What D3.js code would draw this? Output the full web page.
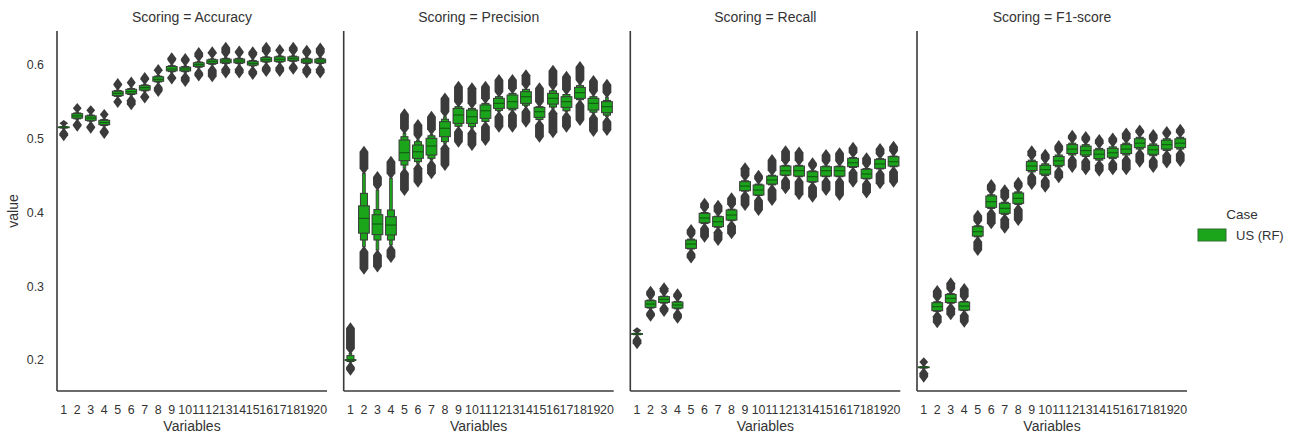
<!DOCTYPE html>
<html>
<head>
<meta charset="utf-8">
<script src="https://cdn.jsdelivr.net/npm/d3@7"></script>
<style>
  html, body { margin: 0; padding: 0; background: #ffffff; }
  svg text { font-family: "Liberation Sans", Arial, sans-serif; fill: #333333; }
</style>
</head>
<body>
<svg id="chart" width="1294" height="438"></svg>
<script>
// Facet titles (one panel per scoring metric)
const scorings = ["Accuracy", "Precision", "Recall", "F1-score"];
// Number of variables on the x axis
const variables = d3.range(1, 21);
// Y tick labels
const yTicks = [0.2, 0.3, 0.4, 0.5, 0.6];
const caseName = "US (RF)";

// Letter-value summaries per variable count.
// Row: [median, q1, q3, lowerLV, upperLV, lowerTailEnd, upperTailEnd, outlierMin, outlierMax]
const accuracyStats = [
  [0.5155, 0.5150, 0.5160, 0.5145, 0.5165, 0.5140, 0.5180, 0.498, 0.524],
  [0.531, 0.528, 0.534, 0.527, 0.535, 0.526, 0.536, 0.511, 0.547],
  [0.528, 0.525, 0.531, 0.524, 0.532, 0.523, 0.533, 0.508, 0.544],
  [0.522, 0.519, 0.525, 0.518, 0.526, 0.517, 0.527, 0.501, 0.539],
  [0.5616, 0.5585, 0.5645, 0.5575, 0.5655, 0.557, 0.566, 0.543, 0.581],
  [0.5638, 0.561, 0.567, 0.560, 0.568, 0.559, 0.569, 0.540, 0.583],
  [0.5693, 0.566, 0.572, 0.565, 0.573, 0.564, 0.574, 0.549, 0.589],
  [0.5806, 0.578, 0.584, 0.577, 0.585, 0.576, 0.586, 0.558, 0.600],
  [0.5946, 0.592, 0.598, 0.591, 0.599, 0.590, 0.600, 0.575, 0.616],
  [0.5946, 0.592, 0.597, 0.591, 0.598, 0.590, 0.599, 0.5715, 0.615],
  [0.6004, 0.598, 0.603, 0.597, 0.604, 0.596, 0.605, 0.579, 0.623],
  [0.6045, 0.602, 0.607, 0.601, 0.608, 0.600, 0.609, 0.578, 0.624],
  [0.6054, 0.603, 0.608, 0.602, 0.609, 0.601, 0.610, 0.583, 0.630],
  [0.6054, 0.603, 0.608, 0.602, 0.609, 0.601, 0.610, 0.583, 0.625],
  [0.6023, 0.600, 0.605, 0.599, 0.606, 0.598, 0.607, 0.581, 0.624],
  [0.6072, 0.605, 0.610, 0.604, 0.611, 0.603, 0.612, 0.585, 0.630],
  [0.6077, 0.605, 0.611, 0.604, 0.612, 0.603, 0.613, 0.585, 0.627],
  [0.6085, 0.606, 0.611, 0.605, 0.612, 0.604, 0.613, 0.588, 0.630],
  [0.6054, 0.603, 0.608, 0.602, 0.609, 0.601, 0.610, 0.583, 0.626],
  [0.6054, 0.603, 0.608, 0.602, 0.609, 0.601, 0.610, 0.583, 0.629]
];
const precisionStats = [
  [0.200, 0.1995, 0.2005, 0.198, 0.206, 0.197, 0.209, 0.180, 0.250],
  [0.392, 0.372, 0.409, 0.3627, 0.426, 0.3536, 0.453, 0.317, 0.489],
  [0.3844, 0.370, 0.397, 0.3627, 0.404, 0.349, 0.4305, 0.320, 0.455],
  [0.383, 0.3695, 0.3943, 0.3627, 0.4034, 0.356, 0.4464, 0.333, 0.4757],
  [0.4811, 0.4703, 0.4983, 0.4644, 0.5028, 0.460, 0.507, 0.4237, 0.540],
  [0.4824, 0.4735, 0.4915, 0.469, 0.496, 0.4667, 0.4983, 0.435, 0.5254],
  [0.4902, 0.478, 0.5006, 0.4735, 0.504, 0.4712, 0.506, 0.4464, 0.5367],
  [0.5142, 0.5028, 0.5231, 0.4961, 0.5265, 0.4938, 0.5299, 0.4576, 0.5615],
  [0.5322, 0.5209, 0.5412, 0.517, 0.5435, 0.5164, 0.5435, 0.4893, 0.5774],
  [0.5299, 0.5209, 0.539, 0.5165, 0.5412, 0.5142, 0.5412, 0.4848, 0.5751],
  [0.538, 0.5277, 0.5458, 0.5235, 0.548, 0.5231, 0.548, 0.4915, 0.5774],
  [0.548, 0.5412, 0.5548, 0.5385, 0.5571, 0.5367, 0.5571, 0.5096, 0.5865],
  [0.5503, 0.5412, 0.5593, 0.539, 0.5616, 0.539, 0.5616, 0.5096, 0.5865],
  [0.557, 0.548, 0.5638, 0.5455, 0.567, 0.5435, 0.567, 0.5164, 0.593],
  [0.5367, 0.529, 0.5426, 0.526, 0.5435, 0.5254, 0.5435, 0.496, 0.5751],
  [0.5548, 0.547, 0.5616, 0.543, 0.565, 0.5413, 0.566, 0.502, 0.599],
  [0.5503, 0.5426, 0.557, 0.538, 0.560, 0.5367, 0.560, 0.5096, 0.591],
  [0.5625, 0.5548, 0.5697, 0.553, 0.572, 0.5525, 0.573, 0.5186, 0.604],
  [0.548, 0.539, 0.5548, 0.536, 0.557, 0.5345, 0.558, 0.5037, 0.585],
  [0.5435, 0.5353, 0.5503, 0.532, 0.552, 0.530, 0.556, 0.5051, 0.580]
];
const recallStats = [
  [0.2353, 0.2348, 0.2358, 0.2343, 0.2363, 0.234, 0.237, 0.2158, 0.243],
  [0.2759, 0.2714, 0.2804, 0.2705, 0.2814, 0.2701, 0.2814, 0.2533, 0.2994],
  [0.2822, 0.278, 0.2859, 0.2772, 0.2866, 0.2769, 0.2866, 0.2597, 0.304],
  [0.2746, 0.2705, 0.2786, 0.2695, 0.2795, 0.2688, 0.2795, 0.2506, 0.2959],
  [0.3573, 0.3514, 0.3627, 0.3505, 0.364, 0.3505, 0.364, 0.3321, 0.3831],
  [0.3925, 0.3862, 0.3989, 0.385, 0.400, 0.385, 0.400, 0.3605, 0.4188],
  [0.3875, 0.3808, 0.3943, 0.380, 0.395, 0.380, 0.395, 0.356, 0.4159],
  [0.3966, 0.3898, 0.4034, 0.389, 0.4045, 0.389, 0.4045, 0.365, 0.426],
  [0.4359, 0.4296, 0.4418, 0.429, 0.443, 0.429, 0.443, 0.4034, 0.4667],
  [0.4305, 0.4237, 0.4373, 0.423, 0.4385, 0.423, 0.4385, 0.3966, 0.4567],
  [0.4441, 0.4386, 0.4494, 0.4375, 0.4505, 0.4375, 0.4505, 0.4102, 0.478],
  [0.4567, 0.4508, 0.463, 0.450, 0.464, 0.450, 0.464, 0.426, 0.490],
  [0.4567, 0.4494, 0.463, 0.4485, 0.464, 0.4485, 0.464, 0.418, 0.488],
  [0.4486, 0.4418, 0.4553, 0.441, 0.4565, 0.441, 0.4565, 0.4146, 0.4735],
  [0.4567, 0.4494, 0.4621, 0.4485, 0.463, 0.4485, 0.463, 0.4237, 0.4847],
  [0.4567, 0.4494, 0.4621, 0.4485, 0.463, 0.4485, 0.463, 0.417, 0.487],
  [0.4675, 0.4621, 0.4735, 0.461, 0.4745, 0.461, 0.4745, 0.435, 0.4945],
  [0.4522, 0.4464, 0.4586, 0.4455, 0.4595, 0.4455, 0.4595, 0.4205, 0.4802],
  [0.4658, 0.4599, 0.4721, 0.459, 0.473, 0.459, 0.473, 0.4328, 0.493],
  [0.4689, 0.463, 0.4757, 0.462, 0.4765, 0.462, 0.4765, 0.435, 0.496]
];
const f1Stats = [
  [0.1901, 0.1896, 0.1906, 0.1891, 0.1911, 0.189, 0.192, 0.1706, 0.2023],
  [0.2723, 0.2669, 0.2777, 0.266, 0.279, 0.266, 0.279, 0.2443, 0.3003],
  [0.2836, 0.278, 0.289, 0.277, 0.290, 0.277, 0.290, 0.2552, 0.3108],
  [0.2732, 0.2677, 0.2786, 0.267, 0.2795, 0.267, 0.2795, 0.2452, 0.303],
  [0.374, 0.3681, 0.3808, 0.367, 0.382, 0.367, 0.382, 0.3424, 0.4024],
  [0.4147, 0.407, 0.4224, 0.4055, 0.424, 0.4055, 0.424, 0.3786, 0.444],
  [0.4057, 0.3989, 0.4125, 0.3975, 0.414, 0.3975, 0.414, 0.3727, 0.437],
  [0.4192, 0.4124, 0.4264, 0.411, 0.428, 0.411, 0.428, 0.3831, 0.447],
  [0.463, 0.457, 0.469, 0.455, 0.471, 0.455, 0.471, 0.432, 0.490],
  [0.458, 0.452, 0.464, 0.450, 0.466, 0.450, 0.466, 0.428, 0.485],
  [0.470, 0.464, 0.476, 0.462, 0.478, 0.462, 0.478, 0.441, 0.497],
  [0.486, 0.480, 0.492, 0.478, 0.494, 0.478, 0.494, 0.455, 0.511],
  [0.484, 0.478, 0.490, 0.476, 0.492, 0.476, 0.492, 0.452, 0.509],
  [0.479, 0.473, 0.485, 0.471, 0.487, 0.471, 0.487, 0.450, 0.505],
  [0.481, 0.475, 0.487, 0.473, 0.489, 0.473, 0.489, 0.452, 0.507],
  [0.486, 0.480, 0.492, 0.478, 0.494, 0.478, 0.494, 0.452, 0.514],
  [0.494, 0.488, 0.500, 0.486, 0.502, 0.486, 0.502, 0.462, 0.518],
  [0.485, 0.479, 0.491, 0.477, 0.493, 0.477, 0.493, 0.455, 0.512],
  [0.492, 0.486, 0.498, 0.484, 0.500, 0.484, 0.500, 0.461, 0.516],
  [0.494, 0.488, 0.500, 0.486, 0.502, 0.486, 0.502, 0.463, 0.519]
];
const panelStats = [accuracyStats, precisionStats, recallStats, f1Stats];

// ---- layout ----
const svg = d3.select("#chart");
const panelLeft = [57, 343.7, 630.3, 917];
const panelWidth = 270;
const plotTop = 31, plotBottom = 391;

const fillGreen = "#1ba51b";
const edgeGray = "#3a3a3a";
const medianGreen = "#145c14";
const outlierGray = "#3b3b3b";

const y = d3.scaleLinear().domain([0.1580, 0.6461]).range([plotBottom, plotTop]);
const x = d3.scaleBand().domain(variables).range([0, panelWidth]).padding(0);
const bw = x.bandwidth();

scorings.forEach((name, p) => {
  const g = svg.append("g").attr("transform", `translate(${panelLeft[p]},0)`);
  const stats = panelStats[p].map((r, i) => ({
    v: variables[i], med: r[0], q1: r[1], q3: r[2], e1: r[3], e3: r[4],
    t1: r[5], t3: r[6], lo: r[7], hi: r[8]
  }));

  // title
  g.append("text")
    .attr("x", panelWidth / 2).attr("y", 22)
    .attr("text-anchor", "middle").attr("font-size", 14)
    .text(`Scoring = ${name}`);

  const marks = g.append("g");
  const cx = d => x(d.v) + bw / 2;

  // deepest letter values: thin tails reaching to the outliers
  const tailW = bw * 0.2;
  marks.selectAll("rect.tail").data(stats).join("rect").attr("class", "tail")
    .attr("x", d => cx(d) - tailW / 2).attr("width", tailW)
    .attr("y", d => y(d.t3)).attr("height", d => Math.max(0, y(d.t1) - y(d.t3)))
    .attr("fill", fillGreen).attr("stroke", edgeGray).attr("stroke-width", 0.8);

  // second letter-value box (eighths)
  const lvW = bw * 0.52;
  marks.selectAll("rect.lv").data(stats).join("rect").attr("class", "lv")
    .attr("x", d => cx(d) - lvW / 2).attr("width", lvW)
    .attr("y", d => y(d.e3)).attr("height", d => Math.max(0.5, y(d.e1) - y(d.e3)))
    .attr("fill", fillGreen).attr("stroke", edgeGray).attr("stroke-width", 1);

  // interquartile box
  const boxW = bw * 0.8;
  marks.selectAll("rect.iqr").data(stats).join("rect").attr("class", "iqr")
    .attr("x", d => cx(d) - boxW / 2).attr("width", boxW)
    .attr("y", d => y(d.q3)).attr("height", d => Math.max(0.5, y(d.q1) - y(d.q3)))
    .attr("fill", fillGreen).attr("stroke", edgeGray).attr("stroke-width", 1);

  // median
  marks.selectAll("line.med").data(stats).join("line").attr("class", "med")
    .attr("x1", d => cx(d) - boxW / 2).attr("x2", d => cx(d) + boxW / 2)
    .attr("y1", d => y(d.med)).attr("y2", d => y(d.med))
    .attr("stroke", medianGreen).attr("stroke-width", 1.2);

  // outlier bands: column of diamond markers beyond the last letter value
  const hw = 4.4, tip = 5;
  const band = (cxv, y0, y1) => {
    const a = Math.min(y0, y1), b = Math.max(y0, y1);
    const len = b - a;
    const t = Math.min(tip, len / 2);
    return `M${cxv},${a - 1}L${cxv + hw},${a + t}L${cxv + hw},${b - t}L${cxv},${b + 1}` +
           `L${cxv - hw},${b - t}L${cxv - hw},${a + t}Z`;
  };
  marks.selectAll("path.outHi").data(stats).join("path").attr("class", "outHi")
    .attr("d", d => band(cx(d), y(d.hi), y(d.t3)))
    .attr("fill", outlierGray);
  marks.selectAll("path.outLo").data(stats).join("path").attr("class", "outLo")
    .attr("d", d => band(cx(d), y(d.lo), y(d.t1)))
    .attr("fill", outlierGray);

  // spines
  g.append("line").attr("x1", 0).attr("x2", 0).attr("y1", plotTop).attr("y2", plotBottom)
    .attr("stroke", "#3a3a3a").attr("stroke-width", 1.6);
  g.append("line").attr("x1", 0).attr("x2", panelWidth).attr("y1", plotBottom).attr("y2", plotBottom)
    .attr("stroke", "#3a3a3a").attr("stroke-width", 1.6);

  // x tick labels
  const xAxis = d3.axisBottom(x).tickSize(0).tickPadding(14);
  const xa = g.append("g").attr("transform", `translate(0,${plotBottom})`).call(xAxis);
  xa.select(".domain").remove();
  xa.selectAll("text").attr("font-size", 12.4).attr("fill", "#333333")
    .attr("font-family", "Liberation Sans, Arial, sans-serif");

  g.append("text").attr("x", panelWidth / 2).attr("y", 431)
    .attr("text-anchor", "middle").attr("font-size", 14).text("Variables");

  if (p === 0) {
    const yAxis = d3.axisLeft(y).tickValues(yTicks).tickSize(0).tickPadding(13)
      .tickFormat(d3.format(".1f"));
    const ya = g.append("g").call(yAxis);
    ya.select(".domain").remove();
    ya.selectAll("text").attr("font-size", 12.4).attr("fill", "#333333")
      .attr("font-family", "Liberation Sans, Arial, sans-serif");
    g.append("text")
      .attr("transform", `translate(${18 - panelLeft[0]},${(plotTop + plotBottom) / 2}) rotate(-90)`)
      .attr("text-anchor", "middle").attr("font-size", 14).text("value");
  }
});

// legend
const lg = svg.append("g");
lg.append("text").attr("x", 1242).attr("y", 219).attr("text-anchor", "middle")
  .attr("font-size", 13.5).text("Case");
lg.append("rect").attr("x", 1198).attr("y", 229).attr("width", 28).attr("height", 12)
  .attr("fill", fillGreen).attr("stroke", "#2e6e2e").attr("stroke-width", 1);
lg.append("text").attr("x", 1236).attr("y", 239.5).attr("font-size", 13).text(caseName);
</script>
</body>
</html>
